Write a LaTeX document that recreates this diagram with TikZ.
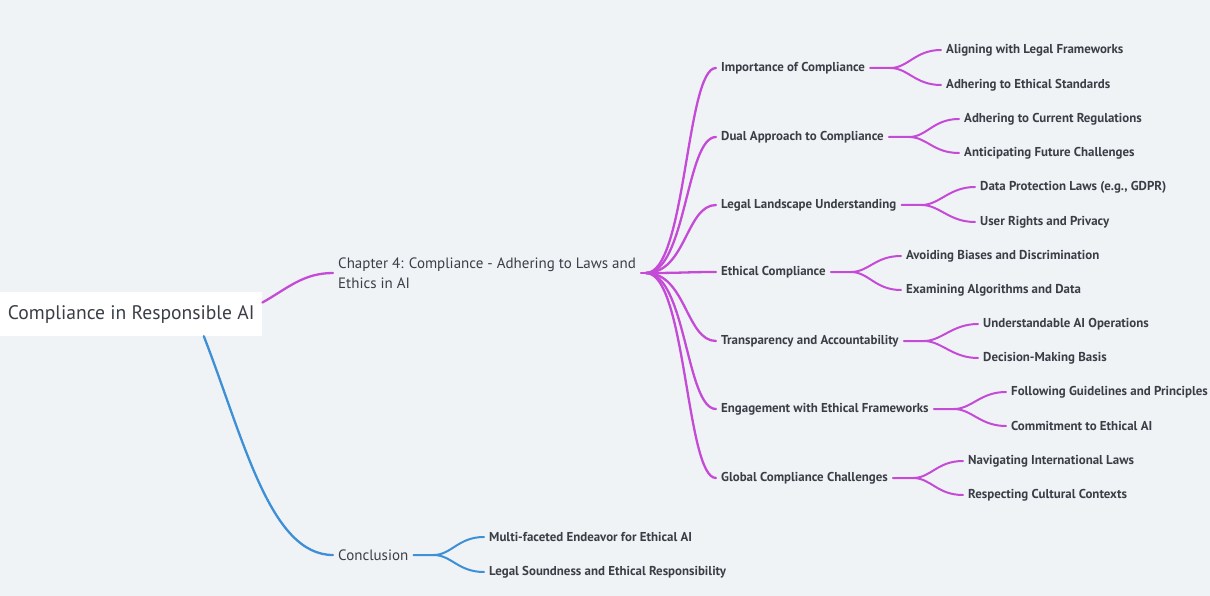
\documentclass[tikz,border=0pt]{standalone}
\usepackage{fontspec}
\setmainfont{PT Sans}
\newfontfamily\topicfont{PT Sans Bold}
\usetikzlibrary{calc}
\definecolor{paper}{HTML}{F0F3F6}
\definecolor{ink}{HTML}{3A3F47}
\definecolor{plum}{HTML}{C44BD6}
\definecolor{sky}{HTML}{3D8FD6}
\begin{document}
\begin{tikzpicture}[x=1pt,y=-1pt,
  rootbox/.style={anchor=west,fill=white,text=ink,inner xsep=6pt,inner ysep=0pt,
    minimum height=44pt,minimum width=262pt,font=\fontsize{19.6}{22}\selectfont},
  major/.style={anchor=west,text=ink,inner xsep=5pt,inner ysep=1pt,align=left,
    font=\fontsize{15}{20}\selectfont},
  topic/.style={anchor=west,text=ink,inner xsep=5pt,inner ysep=1pt,
    font=\topicfont\fontsize{12.9}{15}\selectfont},
  link/.style={line width=2.3pt,line cap=round},
  twig/.style={line width=2pt,line cap=round}]
\fill[paper] (0,0) rectangle (1210,596);
\useasboundingbox (0,0) rectangle (1210,596);

% root and first level
\node[rootbox] (root) at (0,314) {Compliance in Responsible AI};
\node[major] (chap) at (333,273) {Chapter 4: Compliance - Adhering to Laws and\\Ethics in AI};
\node[major] (conc) at (333,555) {Conclusion};

% chapter topics
\node[topic] (c1) at (716,68)  {Importance of Compliance};
\node[topic] (c2) at (716,137) {Dual Approach to Compliance};
\node[topic] (c3) at (716,205) {Legal Landscape Understanding};
\node[topic] (c4) at (716,272) {Ethical Compliance};
\node[topic] (c5) at (716,341) {Transparency and Accountability};
\node[topic] (c6) at (716,409) {Engagement with Ethical Frameworks};
\node[topic] (c7) at (716,478) {Global Compliance Challenges};

% details
\node[topic] (g11) at (941,50)  {Aligning with Legal Frameworks};
\node[topic] (g12) at (941,85)  {Adhering to Ethical Standards};
\node[topic] (g21) at (959,119) {Adhering to Current Regulations};
\node[topic] (g22) at (959,153) {Anticipating Future Challenges};
\node[topic] (g31) at (975,187) {Data Protection Laws (e.g., GDPR)};
\node[topic] (g32) at (975,222) {User Rights and Privacy};
\node[topic] (g41) at (901,256) {Avoiding Biases and Discrimination};
\node[topic] (g42) at (901,290) {Examining Algorithms and Data};
\node[topic] (g51) at (978,324) {Understandable AI Operations};
\node[topic] (g52) at (978,358) {Decision-Making Basis};
\node[topic] (g61) at (1006,392) {Following Guidelines and Principles};
\node[topic] (g62) at (1006,426) {Commitment to Ethical AI};
\node[topic] (g71) at (963,461) {Navigating International Laws};
\node[topic] (g72) at (963,495) {Respecting Cultural Contexts};
\node[topic] (k1) at (484,537) {Multi-faceted Endeavor for Ethical AI};
\node[topic] (k2) at (484,572) {Legal Soundness and Ethical Responsibility};

% connectors from the root
\draw[link,plum] (root.5) .. controls +(25,-14) and +(-30,0) .. (chap.west);
\draw[link,sky] (root.-17.7) .. controls +(40,103) and +(-63,0) .. (conc.west);

% chapter hub fanning out to the topics
\coordinate (hub) at ($(chap.east)+(5,0)$);
\draw[link,plum] (chap.east) -- (hub);
\foreach \c in {c1,c2,c3,c4,c5,c6,c7}
  \draw[link,plum] (hub) .. controls +(40,0) and +(-30,0) .. (\c.west);

% forks from each topic to its two details
\foreach \c/\a/\b in {c1/g11/g12,c2/g21/g22,c3/g31/g32,c4/g41/g42,
                      c5/g51/g52,c6/g61/g62,c7/g71/g72}{
  \draw[twig,plum] (\c.east) -- ++(20,0) coordinate (fork)
    .. controls +(18,0) and +(-26,0) .. (\a.west);
  \draw[twig,plum] (fork) .. controls +(18,0) and +(-26,0) .. (\b.west);
}
\draw[twig,sky] (conc.east) -- ++(20,0) coordinate (cfork)
  .. controls +(18,0) and +(-26,0) .. (k1.west);
\draw[twig,sky] (cfork) .. controls +(18,0) and +(-26,0) .. (k2.west);
\end{tikzpicture}
\end{document}
